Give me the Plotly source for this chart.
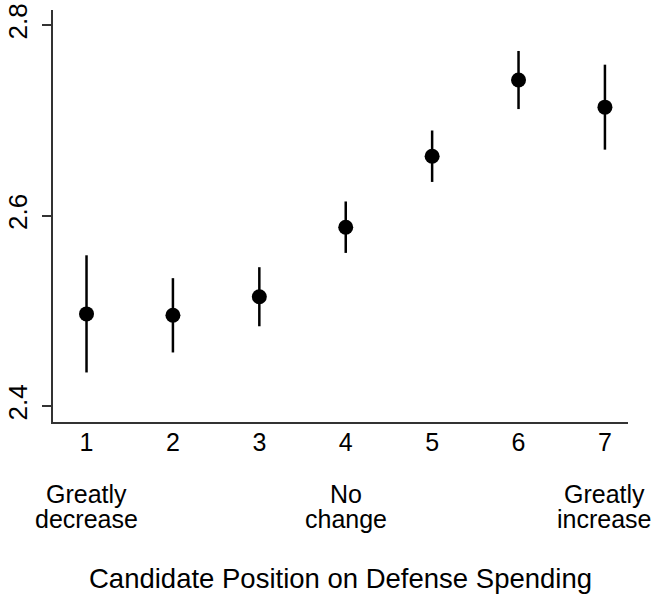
import plotly.graph_objects as go

positions = [1, 2, 3, 4, 5, 6, 7]
means = [2.497, 2.4955, 2.515, 2.588, 2.6625, 2.7425, 2.714]
ci_half = [0.0615, 0.039, 0.031, 0.027, 0.027, 0.0305, 0.0446]
y_ticks = [2.4, 2.6, 2.8]
y_tick_labels = ["2.4", "2.6", "2.8"]
anchor_positions = [1, 4, 7]
anchor_line1 = ["Greatly", "No", "Greatly"]
anchor_line2 = ["decrease", "change", "increase"]
x_title = "Candidate Position on Defense Spending"

FONT = "Liberation Sans, Arial, sans-serif"

fig = go.Figure()
fig.add_trace(go.Scatter(
    x=positions, y=means, mode="markers",
    marker=dict(color="black", size=15),
    error_y=dict(type="data", array=ci_half, visible=True, color="black",
                 thickness=2.5, width=0),
    showlegend=False,
))

for xp, l1, l2 in zip(anchor_positions, anchor_line1, anchor_line2):
    for txt, shift in ((l1, -72), (l2, -97)):
        fig.add_annotation(x=xp, xref="x", y=0, yref="paper", yanchor="middle",
                           yshift=shift, text=txt, showarrow=False,
                           font=dict(family=FONT, size=25, color="black"),
                           align="center")

fig.add_annotation(x=0.5, xref="paper", y=0, yref="paper", yanchor="middle",
                   yshift=-156, text=x_title, showarrow=False,
                   font=dict(family=FONT, size=27.5, color="black"))

fig.update_layout(
    width=654, height=598,
    margin=dict(l=53, r=26, t=10, b=176),
    paper_bgcolor="white", plot_bgcolor="white",
    font=dict(family=FONT, size=26, color="black"),
    xaxis=dict(range=[0.612, 7.267], tickmode="array", tickvals=positions,
               ticktext=[str(p) for p in positions], automargin=False,
               tickfont=dict(size=25),
               showline=True, linecolor="#333", linewidth=1.5,
               showgrid=False, zeroline=False, ticks="", ticklabelstandoff=-3),
    yaxis=dict(range=[2.3835, 2.816], tickmode="array", tickvals=y_ticks,
               ticktext=y_tick_labels, tickangle=-90, automargin=False,
               tickfont=dict(size=26),
               showline=True, linecolor="#333", linewidth=1.5,
               showgrid=False, zeroline=False, ticks="outside", ticklen=9,
               tickcolor="#333", tickwidth=1.5, ticklabelstandoff=5),
)

fig.write_html("out.html", config={"displayModeBar": False},
               post_script="document.body.style.margin='0';document.body.style.padding='0';")
